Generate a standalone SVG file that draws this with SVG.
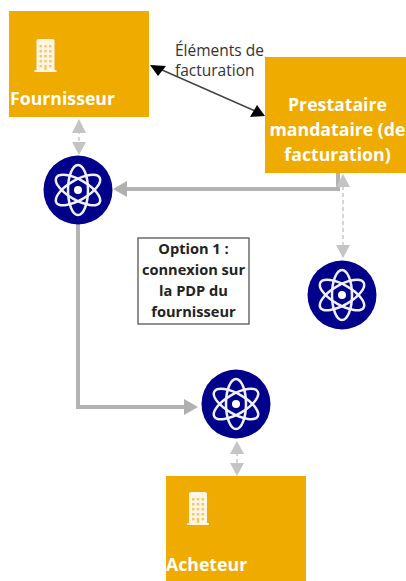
<svg xmlns="http://www.w3.org/2000/svg" width="406" height="581" viewBox="0 0 406 581">
<style>
.box{fill:#f0ab00}
.t{font-family:"Open Sans","DejaVu Sans",sans-serif;font-weight:700;fill:#fff;font-size:17.700px}
.c{text-anchor:middle}
.o{font-family:"Open Sans","DejaVu Sans",sans-serif;font-weight:700;fill:#222;font-size:14.600px;text-anchor:middle}
.n{font-family:"Open Sans","DejaVu Sans",sans-serif;fill:#333;font-size:15.500px}
.disc{fill:#00008b}
.orb{fill:none;stroke:#f0f0fb;stroke-width:2.500}
.thick{fill:none;stroke:#b3b3b3;stroke-width:4}
.dash{fill:none;stroke:#c8c8c8;stroke-width:1.500;stroke-dasharray:4 3}
.head{fill:#c4c4c4}
.headt{fill:#b0b0b0}
</style>
<defs>
<g id="atom">
<circle class="disc" r="34.500"/>
<ellipse class="orb" rx="10" ry="25"/>
<ellipse class="orb" rx="10" ry="25" transform="rotate(60)"/>
<ellipse class="orb" rx="10" ry="25" transform="rotate(-60)"/>
<circle r="4" fill="#fff"/>
</g>
<g id="bld">
<path fill="#fdf6e6" d="M-9 -31q0-2 2-2h14q2 0 2 2v29h2v2h-22v-2h2z"/>
<g fill="#f5c65a">
<rect x="-6" y="-27" width="2.400" height="2.400"/><rect x="-1.200" y="-27" width="2.400" height="2.400"/><rect x="3.600" y="-27" width="2.400" height="2.400"/>
<rect x="-6" y="-22" width="2.400" height="2.400"/><rect x="-1.200" y="-22" width="2.400" height="2.400"/><rect x="3.600" y="-22" width="2.400" height="2.400"/>
<rect x="-6" y="-17" width="2.400" height="2.400"/><rect x="-1.200" y="-17" width="2.400" height="2.400"/><rect x="3.600" y="-17" width="2.400" height="2.400"/>
<rect x="-6" y="-12" width="2.400" height="2.400"/><rect x="-1.200" y="-12" width="2.400" height="2.400"/><rect x="3.600" y="-12" width="2.400" height="2.400"/>
<rect x="-6" y="-7" width="2.400" height="2.400"/><rect x="-1.200" y="-7" width="2.400" height="5"/><rect x="3.600" y="-7" width="2.400" height="2.400"/>
</g>
</g>
</defs>
<g id="connectors">
<path class="thick" d="M338 173V189H116"/>
<path class="headt" d="M113 189L127 181V197Z"/>
<path class="thick" d="M78 224V407H192"/>
<path class="headt" d="M198 407L184 399V415Z"/>
<path d="M153 66L262 114" fill="none" stroke="#444" stroke-width="1.500"/>
<path d="M150 65L166 66L158 76Z" fill="#000"/>
<path d="M265 116L250 117L257 105Z" fill="#000"/>
<path class="dash" d="M79 130V143"/>
<path class="head" d="M79 119L86 133H72Z"/>
<path class="head" d="M79 155L72 142H86Z"/>
<path class="dash" d="M343 186V248"/>
<path class="head" d="M343 174L350 187H336Z"/>
<path class="head" d="M343 258L336 245H350Z"/>
<path class="dash" d="M237 452V466"/>
<path class="head" d="M237 441L244 454H230Z"/>
<path class="head" d="M237 476L230 463H244Z"/>
</g>
<g id="fournisseur">
<rect class="box" x="9" y="11" width="140" height="106"/>
<use href="#bld" x="45.500" y="72"/>
<text class="t" x="10" y="104.500">Fournisseur</text>
</g>
<g id="prestataire">
<rect class="box" x="265" y="57" width="141" height="116"/>
<text class="t c" x="337.500" y="111">Prestataire</text>
<text class="t c" x="337.500" y="136">mandataire (de</text>
<text class="t c" x="337.500" y="161">facturation)</text>
</g>
<g id="acheteur">
<rect class="box" x="166" y="476" width="140" height="105"/>
<use href="#bld" x="198" y="525"/>
<text class="t" x="166" y="571">Acheteur</text>
</g>
<g id="pdp-fournisseur"><use href="#atom" x="78" y="190"/></g>
<g id="pdp-prestataire"><use href="#atom" x="342" y="295"/></g>
<g id="pdp-acheteur"><use href="#atom" x="236" y="404"/></g>
<g id="option">
<rect x="138" y="238" width="111" height="86" fill="#fff" stroke="#555" stroke-width="1.300"/>
<text class="o" x="193.500" y="254">Option 1 :</text>
<text class="o" x="193.500" y="275">connexion sur</text>
<text class="o" x="193.500" y="296">la PDP du</text>
<text class="o" x="193.500" y="317">fournisseur</text>
</g>
<g id="label-elements">
<text class="n" x="175" y="56">Éléments de</text>
<text class="n" x="175" y="76">facturation</text>
</g>
</svg>
